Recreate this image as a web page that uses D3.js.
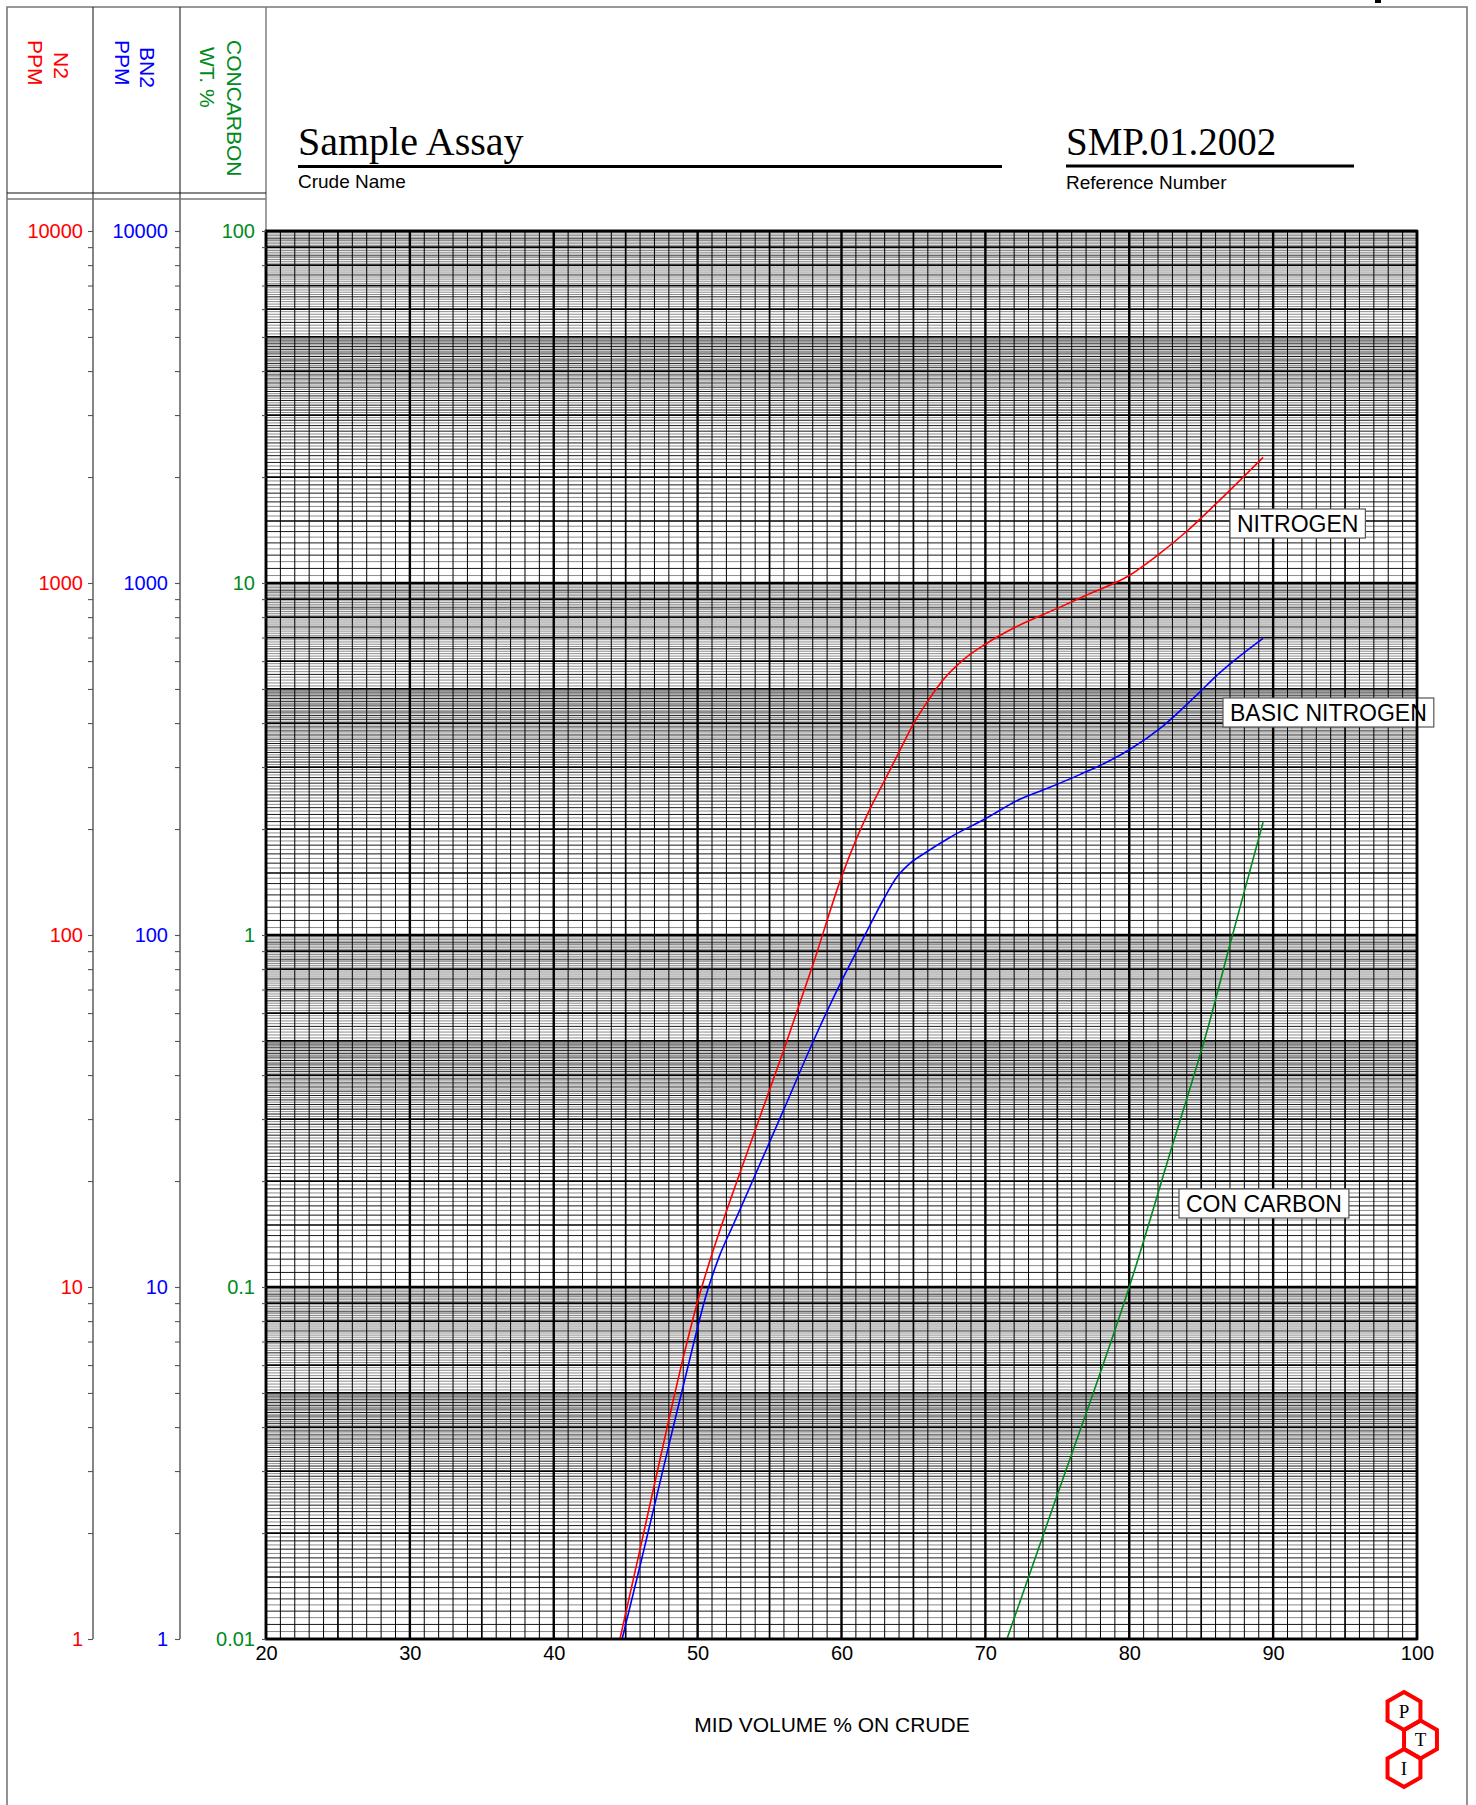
<!DOCTYPE html>
<html><head><meta charset="utf-8">
<script src="https://cdn.jsdelivr.net/npm/d3@7"></script>
<style>body{margin:0;background:#fff} svg{display:block}</style>
</head><body>
<svg id="c" width="1476" height="1805"></svg>
<script>
// ---------- data ----------
const xTicks = [20, 30, 40, 50, 60, 70, 80, 90, 100];
const n2Ticks = [1, 10, 100, 1000, 10000];
const n2TickLabels = ["1", "10", "100", "1000", "10000"];
const bn2Ticks = [1, 10, 100, 1000, 10000];
const bn2TickLabels = ["1", "10", "100", "1000", "10000"];
const ccrTicks = [0.01, 0.1, 1, 10, 100];
const ccrTickLabels = ["0.01", "0.1", "1", "10", "100"];

const nitrogenX   = [44.6, 46, 48, 49, 50, 51, 52, 54, 56, 58, 60, 61, 62, 63, 64, 65, 66, 67, 68.5, 70, 72, 75, 77, 80, 82, 84, 86, 89.3];
const nitrogenPPM = [1, 1.8, 4.2, 6.3, 9.1, 12.4, 16.4, 27.9, 47.3, 82, 146, 186, 229, 275, 331, 398, 462, 527, 607, 670, 746, 847, 923, 1050, 1202, 1403, 1675, 2275];

const basicX   = [44.75, 46.1, 48, 49.6, 50.6, 51.5, 52.5, 54, 56, 58, 60, 61, 62, 63, 63.9, 64.7, 65.8, 67.5, 70, 72.4, 74.4, 76.6, 78.6, 80, 82.3, 84.9, 86, 89.3];
const basicPPM = [1, 1.68, 3.55, 6.6, 9.5, 12.2, 15.1, 20.8, 32, 49.5, 74, 89, 107, 128, 147, 159, 171, 189, 214, 243, 262, 286, 312, 336, 391, 490, 542, 696];

const conCarbonX  = [71.5, 75, 77.5, 80, 82.9, 85.6, 87, 88, 89.3];
const conCarbonWt = [0.01, 0.0257, 0.05, 0.1, 0.245, 0.57, 0.94, 1.33, 2.09];

const seriesNames = ["NITROGEN", "BASIC NITROGEN", "CON CARBON"];
const crudeName = "Sample Assay";
const referenceNumber = "SMP.01.2002";

// ---------- layout ----------
const SANS = "'Liberation Sans', Arial, sans-serif";
const SERIF = "'Liberation Serif', 'Times New Roman', serif";
const RED = "#ff0000", BLUE = "#0000ff", GREEN = "#008a1e";
const L = 266, R = 1417, T = 231, B = 1639;

const svg = d3.select("#c");
svg.append("rect").attr("width", 1476).attr("height", 1805).attr("fill", "#fff");

const x = d3.scaleLinear().domain([20, 100]).range([L, R]);
const yN2 = d3.scaleLog().domain([1, 10000]).range([B, T]);
const yBN2 = d3.scaleLog().domain([1, 10000]).range([B, T]);
const yCC = d3.scaleLog().domain([0.01, 100]).range([B, T]);

// page frame
const frame = svg.append("g").attr("stroke", "#777").attr("stroke-width", 1.6).attr("fill", "none");
frame.append("path").attr("d", "M7,1805 V7 H1467 V1805");
svg.append("rect").attr("x", 1375).attr("y", 0).attr("width", 6).attr("height", 3).attr("fill", "#000");

// header columns
const hdr = svg.append("g");
hdr.append("line").attr("x1", 93).attr("x2", 93).attr("y1", 7).attr("y2", B).attr("stroke", "#222").attr("stroke-width", 1.1);
hdr.append("line").attr("x1", 180).attr("x2", 180).attr("y1", 7).attr("y2", B).attr("stroke", "#222").attr("stroke-width", 1.1);
hdr.append("line").attr("x1", L).attr("x2", L).attr("y1", 7).attr("y2", T).attr("stroke", "#777").attr("stroke-width", 1.4);
hdr.append("line").attr("x1", 7).attr("x2", L).attr("y1", 193).attr("y2", 193).attr("stroke", "#111").attr("stroke-width", 1.2);
hdr.append("line").attr("x1", 7).attr("x2", L).attr("y1", 199).attr("y2", 199).attr("stroke", "#777").attr("stroke-width", 1.6);

function vtext(tx, ty, str, color) {
  hdr.append("text").attr("transform", `translate(${tx},${ty}) rotate(90)`)
    .attr("font-family", SANS).attr("font-size", 21).attr("fill", color).text(str);
}
vtext(54, 52, "N2", RED);
vtext(28, 40, "PPM", RED);
vtext(140, 47, "BN2", BLUE);
vtext(115, 40, "PPM", BLUE);
vtext(227, 40, "CONCARBON", GREEN);
vtext(200, 47, "WT. %", GREEN);

// titles
svg.append("text").attr("x", 298).attr("y", 155).attr("font-family", SERIF).attr("font-size", 40).attr("fill", "#000").text(crudeName);
svg.append("rect").attr("x", 298).attr("y", 165).attr("width", 704).attr("height", 3).attr("fill", "#000");
svg.append("text").attr("x", 298).attr("y", 188).attr("font-family", SANS).attr("font-size", 19).attr("fill", "#000").text("Crude Name");
svg.append("text").attr("x", 1066).attr("y", 155).attr("font-family", SERIF).attr("font-size", 39).attr("fill", "#000").text(referenceNumber);
svg.append("rect").attr("x", 1066).attr("y", 164.5).attr("width", 288).attr("height", 3).attr("fill", "#000");
svg.append("text").attr("x", 1066).attr("y", 189).attr("font-family", SANS).attr("font-size", 19).attr("fill", "#000").text("Reference Number");

// ---------- grid ----------
const grid = svg.append("g");
const hLines = [];
[0.01, 0.1, 1, 10].forEach(dec => {
  for (let k = 100; k < 500; k += 5) {
    let cls;
    if (k === 100) cls = "dec";
    else if (k % 100 === 0 || k === 150) cls = "int";
    else if (k % 10 === 0) cls = "blk";
    else cls = "gry";
    hLines.push({ val: dec * k / 100, cls });
  }
  for (let k = 500; k < 1000; k += 10) {
    let cls;
    if (k % 100 === 0) cls = "int";
    else if (k % 50 === 0) cls = "blk";
    else cls = "gry";
    hLines.push({ val: dec * k / 100, cls });
  }
});
hLines.push({ val: 100, cls: "dec" });
const hStyle = {
  dec: ["#000", 2.6], int: ["#000", 1.7], blk: ["#000", 0.9], gry: ["#666", 0.75]
};
["gry", "blk", "int", "dec"].forEach(c => {
  grid.selectAll(null).data(hLines.filter(d => d.cls === c)).enter().append("line")
    .attr("x1", L).attr("x2", R)
    .attr("y1", d => yCC(d.val)).attr("y2", d => yCC(d.val))
    .attr("stroke", hStyle[c][0]).attr("stroke-width", hStyle[c][1]);
});
const vVals = d3.range(20, 101, 1);
grid.selectAll(null).data(vVals).enter().append("line")
  .attr("x1", d => x(d)).attr("x2", d => x(d)).attr("y1", T).attr("y2", B)
  .attr("stroke", "#000")
  .attr("stroke-width", d => d % 10 === 0 ? 2.4 : (d % 5 === 0 ? 1.7 : 1));

// ---------- curves ----------
const curves = svg.append("g").attr("fill", "none").attr("stroke-width", 1.6);
function drawSeries(xs, ys, yScale, color) {
  const pts = xs.map((v, i) => [x(v), yScale(ys[i])]);
  curves.append("path").attr("d", d3.line().curve(d3.curveMonotoneX)(pts)).attr("stroke", color);
}
drawSeries(nitrogenX, nitrogenPPM, yN2, RED);
drawSeries(basicX, basicPPM, yBN2, BLUE);
drawSeries(conCarbonX, conCarbonWt, yCC, GREEN);

// ---------- series labels ----------
const labelPos = [[1237, 532], [1230, 721], [1186, 1212]];
const lab = svg.append("g");
seriesNames.forEach((name, i) => {
  const g = lab.append("g");
  const rect = g.append("rect").attr("fill", "#fff").attr("stroke", "#555").attr("stroke-width", 1.2);
  const t = g.append("text").attr("x", labelPos[i][0]).attr("y", labelPos[i][1])
    .attr("font-family", SANS).attr("font-size", 23).attr("fill", "#000").text(name);
  const bb = t.node().getBBox();
  rect.attr("x", labelPos[i][0] - 7).attr("y", labelPos[i][1] - 23).attr("width", bb.width + 14).attr("height", 29);
});

// plot frame
svg.append("rect").attr("x", L).attr("y", T).attr("width", R - L).attr("height", B - T)
  .attr("fill", "none").attr("stroke", "#000").attr("stroke-width", 2.6);

// ---------- axes ----------
function minorTicks(lo, hi) {
  const out = [];
  for (let d = lo; d < hi * 0.999; d *= 10) for (let m = 1; m < 10; m++) out.push(d * m);
  out.push(hi);
  return out;
}
function styleAxis(g, color) {
  g.select(".domain").remove();
  g.selectAll(".tick line").attr("stroke", "#555").attr("stroke-width", 1.1);
  g.selectAll(".tick text").attr("fill", color).attr("font-family", SANS).attr("font-size", 20);
}
const fmt = (ticks, labels) => d => {
  const i = ticks.findIndex(t => Math.abs(t - d) / t < 1e-6);
  return i >= 0 ? labels[i] : "";
};
const axN2 = svg.append("g").attr("transform", "translate(93,0)")
  .call(d3.axisLeft(yN2).tickValues(minorTicks(1, 10000)).tickFormat(fmt(n2Ticks, n2TickLabels)).tickSize(5).tickPadding(5));
styleAxis(axN2, RED);
const axBN2 = svg.append("g").attr("transform", "translate(180,0)")
  .call(d3.axisLeft(yBN2).tickValues(minorTicks(1, 10000)).tickFormat(fmt(bn2Ticks, bn2TickLabels)).tickSize(5).tickPadding(7));
styleAxis(axBN2, BLUE);
const axCC = svg.append("g").attr("transform", `translate(${L},0)`)
  .call(d3.axisLeft(yCC).tickValues(minorTicks(0.01, 100)).tickFormat(fmt(ccrTicks, ccrTickLabels)).tickSize(4).tickPadding(7));
styleAxis(axCC, GREEN);

const axX = svg.append("g").attr("transform", `translate(0,${B})`)
  .call(d3.axisBottom(x).tickValues(xTicks).tickFormat(d3.format("d")).tickSize(0).tickPadding(7));
axX.select(".domain").remove();
axX.selectAll(".tick text").attr("fill", "#000").attr("font-family", SANS).attr("font-size", 20);

svg.append("text").attr("x", 832).attr("y", 1732).attr("text-anchor", "middle")
  .attr("font-family", SANS).attr("font-size", 21).attr("fill", "#000").text("MID VOLUME % ON CRUDE");

// ---------- logo ----------
const logo = svg.append("g");
const hexR = 19;
const hexPts = d3.range(6).map(i => {
  const a = (-90 + 60 * i) * Math.PI / 180;
  return [hexR * Math.cos(a), hexR * Math.sin(a)];
});
[["P", 1404, 1711], ["T", 1420.5, 1739.5], ["I", 1404, 1768]].forEach(([ch, cx, cy]) => {
  logo.append("polygon").attr("points", hexPts.map(p => [cx + p[0], cy + p[1]].join(",")).join(" "))
    .attr("fill", "none").attr("stroke", "#ff0000").attr("stroke-width", 4);
  logo.append("text").attr("x", cx).attr("y", cy).attr("dy", "0.35em").attr("text-anchor", "middle")
    .attr("font-family", SERIF).attr("font-size", 19).attr("fill", "#000").text(ch);
});
</script>
</body></html>
